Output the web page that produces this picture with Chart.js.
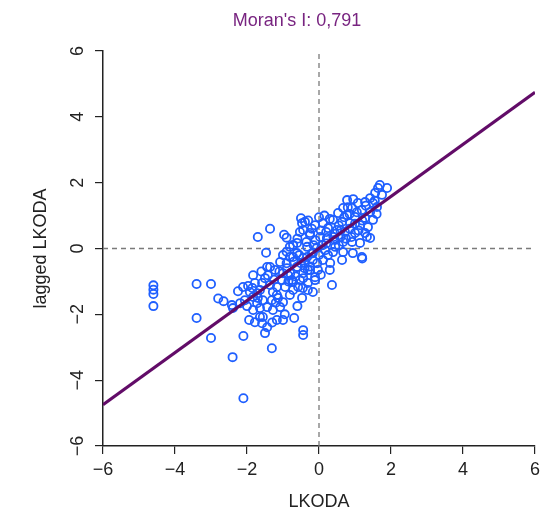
<!DOCTYPE html>
<html><head><meta charset="utf-8">
<script src="https://cdn.jsdelivr.net/npm/chart.js@4/dist/chart.umd.min.js"></script>
<style>html,body{margin:0;padding:0;background:#fff}</style>
</head><body>
<canvas id="c" width="557" height="531"></canvas>
<script>
// ---- data ----
const titleText = "Moran's I: 0,791";
const xLabel = "LKODA";
const yLabel = "lagged LKODA";
const moranI = 0.791;
const axisRange = [-6, 6];
const axisStep = 2;

const lkoda = [
  -4.6,-4.6,-4.6,-4.6,-3.4,-3.0,-3.4,-3.0,-2.8,-2.65,-2.4,-2.1,-2.1,-1.31,-1.7,-1.36,-0.97,-0.9,-1.47,-1.44,
  -2.11,-1.97,-2.19,-2.42,-2.39,-2.06,-1.83,-1.78,-1.58,-1.36,
  -1.42,-1.64,-1.56,-1.72,-1.83,-1.64,-1.44,-1.31,-1.14,-1.08,
  -1.28,-1.17,-1.03,-1.22,-1.08,-0.89,-0.81,-0.75,-0.72,-0.81,
  -0.58,-0.53,-0.44,-0.31,-0.61,-0.39,-0.61,-0.81,-0.72,-0.44,
  -0.47,-0.25,-0.17,-0.33,-0.25,-0.11,-0.17,-0.31,-0.47,-1.0,
  -1.28,-1.56,-1.83,-1.92,-1.72,-1.36,-1.5,-1.0,-0.86,-0.94,-1.17,
  -0.44,-0.44,-1.17,-1.0,-0.69,-1.5,-1.44,-1.94,-1.78,-1.58,-1.64,
  1.69,1.64,1.89,1.56,1.75,1.42,1.28,1.5,1.61,0.78,
  1.08,0.92,1.19,1.42,0.67,0.53,0.78,1.0,1.28,1.5,
  0.39,0.64,0.86,1.14,1.36,-0.39,-0.11,0.11,0.25,0.5,
  0.72,1.0,1.28,1.42,-0.53,-0.25,0.03,0.22,0.44,0.67,
  0.92,1.14,-0.61,-0.33,-0.06,0.17,0.39,0.67,0.94,1.19,
  0.64,-0.72,-0.44,-0.17,0.11,0.31,-0.61,-0.31,-0.03,-0.44,
  -0.11,0.36,-0.72,
  0.05,0.3,0.55,0.8,1.05,1.2,0.45,0.2,-0.1,0.6,
  0.85,1.1,1.3,1.55,0.95,0.7,-0.2,0.0,-0.5,-0.65,
  -0.9,-1.1,-1.25,-0.85,-0.45,-0.25,0.05,0.3,-1.6,-1.85,
  -2.0,-2.25,-1.7,-1.2,-0.95,-1.3,-0.6,0.45,0.9,1.6,
  -0.5,-0.3,1.33,1.2,0.15,0.0,
  -0.9,-0.7,-0.55,-0.35,-0.15,0.1,0.25,0.4,0.55,0.75,
  -0.05,-0.4,-0.8,-1.0,0.2,0.6,1.0,0.85,-0.6,-0.2
];
const laggedLkoda = [
  -1.12,-1.25,-1.38,-1.75,-1.08,-1.08,-2.11,-2.72,-1.52,-1.6,-3.3,-2.66,-4.55,-3.03,0.35,0.6,0.42,0.33,-0.13,-0.56,
  -1.17,-1.14,-1.66,-1.72,-1.81,-1.57,-0.81,-1.05,-1.05,-0.56,
  -0.81,-1.26,-1.57,-1.66,-1.87,-1.81,-1.78,-1.57,-1.5,-1.78,
  -1.32,-1.17,-0.96,-0.65,-0.41,-0.6,-0.26,-0.96,-1.26,-1.41,
  -1.17,-0.96,-0.75,-1.05,-0.56,-0.44,-0.14,0.05,0.11,0.56,
  0.77,0.47,-0.14,-0.26,-0.65,-0.87,-1.32,-1.26,-1.5,-1.63,
  -1.87,-2.08,-1.47,-1.32,-1.36,-1.11,-0.9,-0.75,-0.81,-1.17,-1.41,
  -2.48,-2.63,-2.17,-2.17,-2.11,-2.57,-2.39,-2.17,-2.24,-2.27,-2.08,
  1.93,1.84,1.84,1.69,1.63,1.53,1.41,1.38,1.26,1.47,
  1.38,1.23,1.17,1.11,1.23,1.08,1.02,0.96,0.93,0.87,
  0.87,0.81,0.77,0.71,0.65,0.81,0.71,0.77,0.62,0.56,
  0.5,0.47,0.47,0.32,0.5,0.41,0.35,0.32,0.26,0.2,
  0.2,0.17,0.17,0.05,0.02,-0.05,-0.11,-0.11,-0.14,-0.26,
  -0.35,-0.26,-0.29,-0.35,-0.35,-0.44,-0.56,-0.65,-0.65,-0.9,
  -0.96,-1.11,-1.02,
  0.55,0.9,0.7,1.25,1.1,0.85,0.45,0.15,0.25,0.35,
  0.6,0.55,1.3,1.45,1.5,0.95,-0.15,-0.2,-0.45,-0.85,
  -0.45,-0.7,-0.95,-1.0,-1.2,-0.55,-0.8,-0.65,-0.7,-1.2,
  -1.75,-1.3,-1.5,-1.65,-2.0,-2.25,-1.75,0.05,0.35,1.05,
  0.92,0.85,0.36,-0.3,1.0,0.95,
  -0.1,-0.4,-0.2,0.2,0.1,0.1,-0.2,0.35,0.1,0.3,
  -0.45,-0.6,-0.75,-0.2,0.5,0.55,0.75,1.05,0.3,0.6
];

// ---- chart ----
const FONT = "'Liberation Sans', Arial, sans-serif";
const points = lkoda.map((x, i) => ({x: x, y: laggedLkoda[i]}));
const fitLine = axisRange.map(x => ({x: x, y: moranI * x}));
const vZero = axisRange.map(v => ({x: 0, y: v}));
const hZero = axisRange.map(v => ({x: v, y: 0}));
const minusFmt = v => String(v).replace('-', '\u2212');

const titlePlugin = {
  id: 'rtitle',
  afterDraw(chart) {
    const ctx = chart.ctx, a = chart.chartArea;
    ctx.save();
    ctx.font = "18px " + FONT;
    ctx.fillStyle = '#782480';
    ctx.textAlign = 'center';
    ctx.textBaseline = 'middle';
    ctx.fillText(titleText, (a.left + a.right) / 2 - 22, 21);
    ctx.restore();
  }
};

new Chart(document.getElementById('c'), {
  type: 'scatter',
  data: {
    datasets: [
      {data: fitLine, showLine: true, borderColor: '#620c68', borderWidth: 3, pointRadius: 0, order: 0},
      {data: points, pointStyle: 'circle', pointRadius: 4.1, borderWidth: 1.8,
       borderColor: '#1f5fff', backgroundColor: 'rgba(0,0,0,0)', order: 1},
      {data: vZero, showLine: true, borderColor: '#7a7a7a', borderWidth: 1.3, borderDash: [5, 4], pointRadius: 0, order: 2},
      {data: hZero, showLine: true, borderColor: '#7a7a7a', borderWidth: 1.3, borderDash: [5, 4], pointRadius: 0, order: 2}
    ]
  },
  options: {
    responsive: false,
    animation: false,
    devicePixelRatio: 1,
    layout: {padding: {left: 26, right: 22, top: 51, bottom: 14}},
    plugins: {legend: {display: false}, tooltip: {enabled: false}},
    scales: {
      x: {
        type: 'linear', min: axisRange[0], max: axisRange[1],
        ticks: {stepSize: axisStep, color: '#222', font: {family: FONT, size: 18}, padding: 5, callback: minusFmt},
        grid: {drawOnChartArea: false, drawTicks: true, tickLength: 8, color: '#222', lineWidth: 1.2},
        border: {display: true, color: '#222', width: 1.5},
        title: {display: true, text: xLabel, color: '#222', font: {family: FONT, size: 18}, padding: {top: 0, bottom: 4}},
        afterFit(s) { s.height = 71; }
      },
      y: {
        type: 'linear', min: axisRange[0], max: axisRange[1],
        ticks: {stepSize: axisStep, color: '#222', font: {family: FONT, size: 18}, padding: 7,
                minRotation: 90, maxRotation: 90, crossAlign: 'center', callback: minusFmt},
        grid: {drawOnChartArea: false, drawTicks: true, tickLength: 8, color: '#222', lineWidth: 1.2},
        border: {display: true, color: '#222', width: 1.5},
        title: {display: true, text: yLabel, color: '#222', font: {family: FONT, size: 18}, padding: {top: 4, bottom: 0}},
        afterFit(s) { s.width = 77; }
      }
    }
  },
  plugins: [titlePlugin]
});
</script>
</body></html>
